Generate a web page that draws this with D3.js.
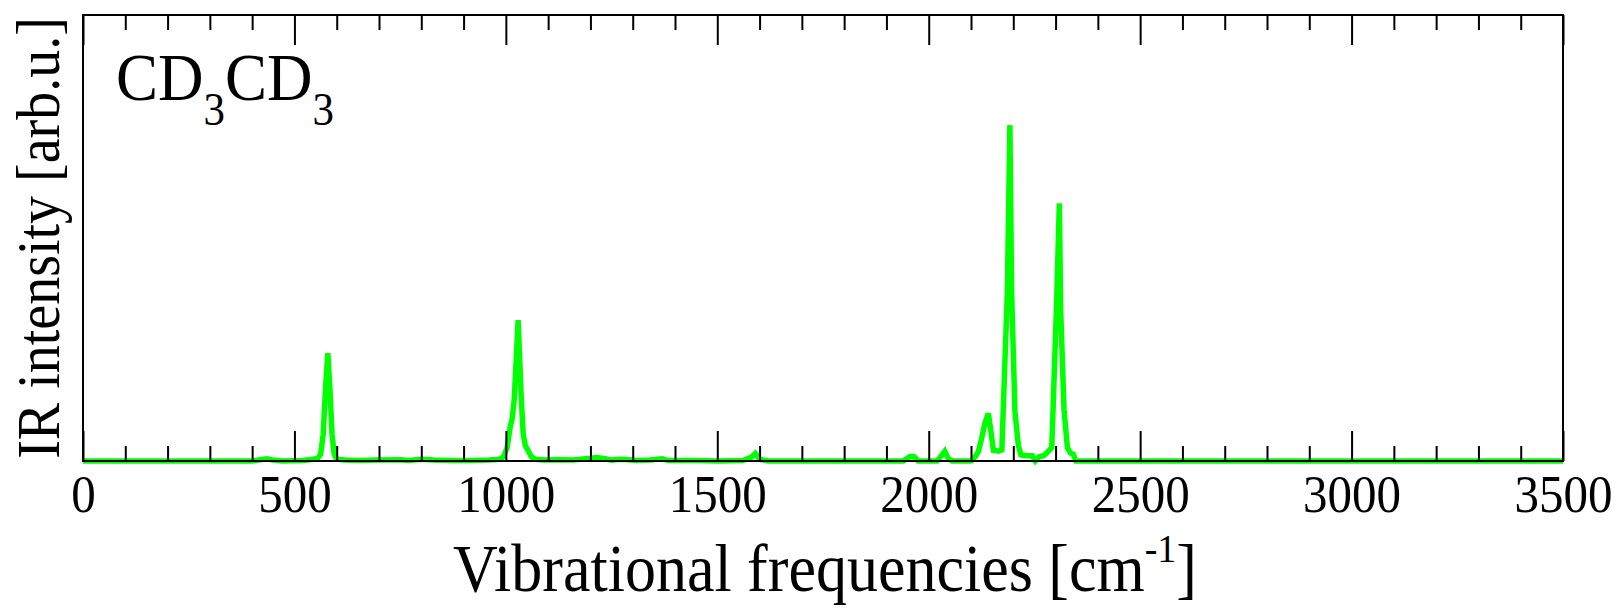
<!DOCTYPE html>
<html>
<head>
<meta charset="utf-8">
<script src="https://cdn.jsdelivr.net/npm/d3@7"></script>
<style>
  html, body { margin: 0; padding: 0; background: #fff; }
  svg { display: block; }
  text { font-family: "Liberation Serif", "Times New Roman", serif; fill: #000; }
</style>
</head>
<body>
<svg id="chart" width="1619" height="608"></svg>
<script>
// ---- data ----
const frequencies = [
  0, 400, 420, 435, 450, 470, 520, 545, 555, 562, 568, 574, 579, 584, 589, 594, 600,
  620, 650, 700, 750, 770, 800, 830, 870, 920, 960, 985, 995, 1003, 1010, 1015, 1020,
  1029, 1036, 1041, 1046, 1052, 1060, 1070, 1090, 1130, 1160, 1200, 1215, 1235, 1250,
  1270, 1290, 1310, 1340, 1370, 1385, 1450, 1500, 1560, 1580, 1590, 1600, 1620, 1940,
  1955, 1965, 1975, 2020, 2030, 2038, 2046, 2055, 2100, 2110, 2117, 2125, 2133, 2141,
  2148, 2153, 2165, 2173, 2186, 2192, 2196, 2204, 2212, 2218, 2230, 2245, 2252, 2262,
  2272, 2283, 2291, 2302, 2309, 2312, 2320, 2328, 2335, 2342, 2348, 3500
];
const intensity = [
  0, 0, 0.003, 0.005, 0.002, 0, 0.001, 0.004, 0.006, 0.015, 0.06, 0.17, 0.242, 0.16, 0.06, 0.015, 0.004,
  0.002, 0.001, 0.002, 0.003, 0.001, 0.004, 0.002, 0.001, 0.001, 0.002, 0.004, 0.01, 0.03, 0.075, 0.095, 0.14,
  0.316, 0.15, 0.06, 0.035, 0.024, 0.01, 0.004, 0.002, 0.003, 0.002, 0.006, 0.008, 0.005, 0.002,
  0.004, 0.003, 0.001, 0.002, 0.005, 0.001, 0.001, 0, 0.001, 0.008, 0.017, 0.004, 0, 0,
  0.01, 0.01, 0, 0, 0.012, 0.022, 0.006, 0, 0, 0.01, 0.02, 0.05, 0.085, 0.107,
  0.06, 0.024, 0.022, 0.025, 0.38, 0.753, 0.38, 0.11, 0.035, 0.014, 0.012, 0.012, 0, 0.01,
  0.012, 0.022, 0.03, 0.34, 0.578, 0.34, 0.115, 0.03, 0.018, 0.015, 0, 0
];
const majorTicks = [0, 500, 1000, 1500, 2000, 2500, 3000, 3500];
const minorTicks = d3.range(0, 3501, 100).filter(v => v % 500 !== 0);
const xDomain = [0, 3500];
const yDomain = [0, 1];

// ---- layout ----
const svg = d3.select("#chart");
const L = 83, R = 1563, T = 15, B = 461;
const STRETCH = 1.08; // glyphs in the reference are slightly taller than wide

const x = d3.scaleLinear().domain(xDomain).range([L, R]);
const y = d3.scaleLinear().domain(yDomain).range([B, T]);

const pts = frequencies.map((f, i) => [f, intensity[i]]);

// data line
svg.append("path")
  .datum(pts)
  .attr("fill", "none")
  .attr("stroke", "#00ff00")
  .attr("stroke-width", 5.5)
  .attr("stroke-linejoin", "miter")
  .attr("d", d3.line().x(d => x(d[0])).y(d => y(d[1])));

// axes (drawn on top of the data)
function styleAxis(g) {
  g.select(".domain").remove();
  g.selectAll(".tick line").attr("stroke", "#000").attr("stroke-width", 2);
}

svg.append("g")
  .attr("transform", `translate(0,${B})`)
  .call(d3.axisBottom(x).tickValues(majorTicks).tickSizeInner(-30).tickSizeOuter(0)
        .tickPadding(17).tickFormat(d3.format("d")))
  .call(styleAxis)
  .call(g => g.selectAll(".tick text")
    .attr("font-family", "Liberation Serif")
    .attr("font-size", 49)
    .attr("fill", "#000")
    .attr("y", 0)
    .attr("dy", null)
    .attr("transform", `translate(0,51) scale(1,${STRETCH})`));

svg.append("g")
  .attr("transform", `translate(0,${B})`)
  .call(d3.axisBottom(x).tickValues(minorTicks).tickSizeInner(-15).tickSizeOuter(0).tickFormat(""))
  .call(styleAxis);

svg.append("g")
  .attr("transform", `translate(0,${T})`)
  .call(d3.axisTop(x).tickValues(majorTicks).tickSizeInner(-30).tickSizeOuter(0).tickFormat(""))
  .call(styleAxis);

svg.append("g")
  .attr("transform", `translate(0,${T})`)
  .call(d3.axisTop(x).tickValues(minorTicks).tickSizeInner(-15).tickSizeOuter(0).tickFormat(""))
  .call(styleAxis);

// frame
svg.append("rect")
  .attr("x", L).attr("y", T)
  .attr("width", R - L).attr("height", B - T)
  .attr("fill", "none")
  .attr("stroke", "#000")
  .attr("stroke-width", 2);

// axis titles
const xl = svg.append("text")
  .attr("transform", `translate(${(L + R) / 2 + 2},591) scale(1,${STRETCH})`)
  .attr("text-anchor", "middle")
  .attr("font-size", 62);
xl.append("tspan").text("Vibrational frequencies [cm");
xl.append("tspan").attr("font-size", 38).attr("dy", -27).text("-1");
xl.append("tspan").attr("dy", 27).text("]");

svg.append("text")
  .attr("transform", `translate(59,${(T + B) / 2}) rotate(-90) scale(1,${STRETCH})`)
  .attr("text-anchor", "middle")
  .attr("font-size", 56)
  .text("IR intensity [arb.u.]");

// molecule label
const lab = svg.append("text")
  .attr("transform", `translate(116,100) scale(1,${STRETCH})`)
  .attr("font-size", 63);
lab.append("tspan").text("CD");
lab.append("tspan").attr("font-size", 43).attr("dy", 23).text("3");
lab.append("tspan").attr("dy", -23).text("CD");
lab.append("tspan").attr("font-size", 43).attr("dy", 23).text("3");
</script>
</body>
</html>
